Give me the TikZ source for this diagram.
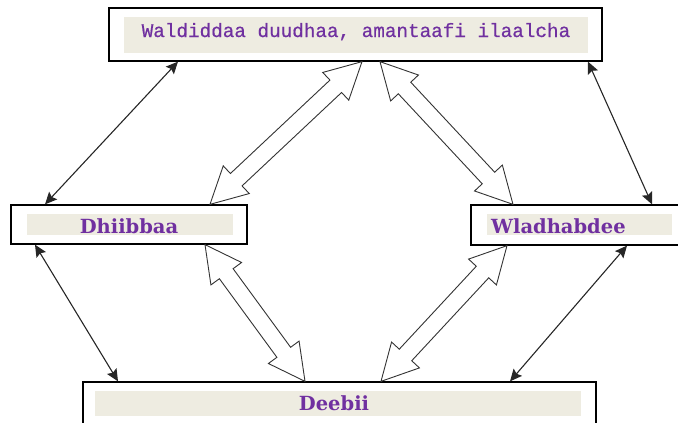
\documentclass[tikz,border=0pt]{standalone}
\usepackage{fontspec}
\usetikzlibrary{calc,arrows.meta}
\newfontfamily\monofnt{Liberation Mono}[FakeBold=0.6]
\newfontfamily\labfnt{DejaVu Serif}
\definecolor{txtpurple}{HTML}{7030A0}
\definecolor{shadefill}{HTML}{EEECE1}
\def\bahl{36pt}
\def\bahw{19pt}
\def\basw{8.5pt}
\newcommand\blockarrow[2]{%
  \draw[blk] (#1) -- ($(#1)!\bahl!(#2)!\bahw!90:(#1)$) -- ($(#1)!\bahl!(#2)!\basw!90:(#1)$)
   -- ($(#2)!\bahl!(#1)!\basw!-90:(#2)$) -- ($(#2)!\bahl!(#1)!\bahw!-90:(#2)$) -- (#2)
   -- ($(#2)!\bahl!(#1)!\bahw!90:(#2)$) -- ($(#2)!\bahl!(#1)!\basw!90:(#2)$)
   -- ($(#1)!\bahl!(#2)!\basw!-90:(#1)$) -- ($(#1)!\bahl!(#2)!\bahw!-90:(#1)$) -- cycle;}
\begin{document}
\begin{tikzpicture}[x=1pt,y=-1pt,
  outer/.style={draw=black, line width=1.3pt, fill=white, inner sep=0pt},
  inner/.style={fill=shadefill, inner sep=0pt},
  lbl/.style={text=txtpurple, inner sep=0pt},
  thinarr/.style={line width=1.1pt, draw=black!85, {Stealth[length=12pt,width=11pt,inset=2pt]}-{Stealth[length=12pt,width=11pt,inset=2pt]}},
  blk/.style={draw=black!80, line width=0.9pt, fill=white, line join=miter}]
\useasboundingbox (0,0) rectangle (678,423);
% boxes
\node[outer, minimum width=493pt, minimum height=53pt] (topbox) at (355.5,34.5) {};
\node[inner, minimum width=464pt, minimum height=36pt] (topin) at (356,35) {};
\node[lbl, anchor=base, font=\monofnt\fontsize{19.3}{20}\selectfont] (toptext) at (356,37) {Waldiddaa duudhaa, amantaafi ilaalcha};
\node[outer, minimum width=236pt, minimum height=39pt] (leftbox) at (129,224.5) {};
\node[inner, minimum width=206pt, minimum height=21pt] (leftin) at (130,224.5) {};
\node[lbl, anchor=base, font=\labfnt\bfseries\fontsize{19.5}{21}\selectfont] (lefttext) at (129,233) {Dhiibbaa};
\node[outer, minimum width=213pt, minimum height=40pt] (rightbox) at (577.5,225) {};
\node[inner, minimum width=185pt, minimum height=21pt] (rightin) at (579.5,224.5) {};
\node[lbl, anchor=base west, font=\labfnt\bfseries\fontsize{19.5}{21}\selectfont] (righttext) at (491,233) {Wladhabdee};
\node[outer, minimum width=513pt, minimum height=50pt] (botbox) at (339.5,407) {};
\node[inner, minimum width=486pt, minimum height=25pt] (botin) at (338,403.5) {};
\node[lbl, anchor=base, font=\labfnt\bfseries\fontsize{19.5}{21}\selectfont] (bottext) at (334,410) {Deebii};
% thin double arrows
\draw[thinarr] (topbox.south -| 178,0) -- (leftbox.north -| 45,0);
\draw[thinarr] (topbox.south -| 588,0) -- (rightbox.north -| 652,0);
\draw[thinarr] (leftbox.south -| 35,0) -- (botbox.north -| 118,0);
\draw[thinarr] (rightbox.south -| 627,0) -- (botbox.north -| 510,0);
% block arrows
\coordinate (b1s) at (topbox.south -| 362,0);
\coordinate (b1e) at (leftbox.north -| 210,0);
\coordinate (b2s) at (topbox.south -| 380,0);
\coordinate (b2e) at (rightbox.north -| 513,0);
\coordinate (b3s) at (leftbox.south -| 205,0);
\coordinate (b3e) at (botbox.north -| 305,0);
\coordinate (b4s) at (rightbox.south -| 507,0);
\coordinate (b4e) at (botbox.north -| 381,0);
\blockarrow{b1s}{b1e}
\blockarrow{b2s}{b2e}
\blockarrow{b3s}{b3e}
\blockarrow{b4s}{b4e}
\end{tikzpicture}
\end{document}
